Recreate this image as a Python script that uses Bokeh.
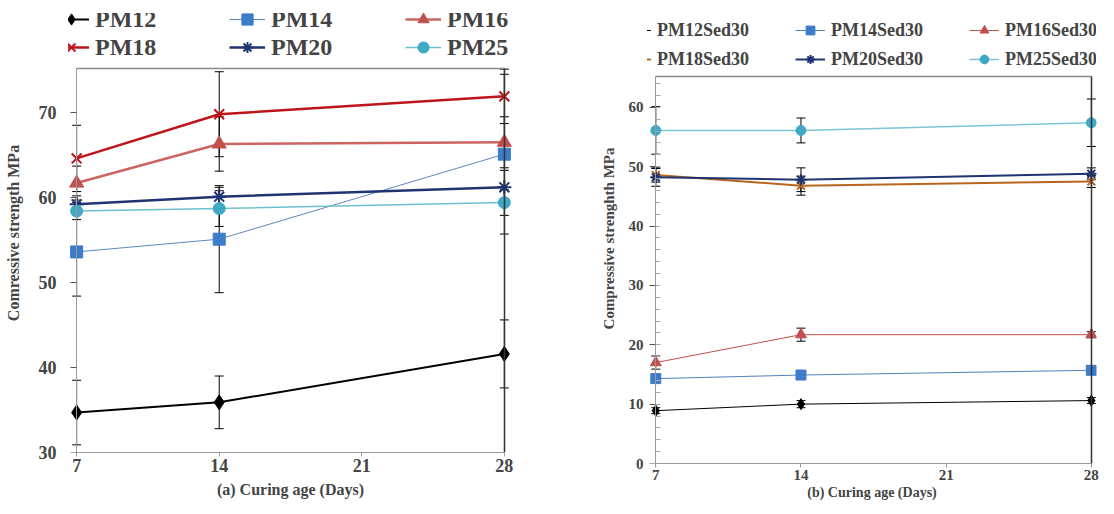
from bokeh.plotting import figure
from bokeh.models import (Range1d, LinearAxis, FixedTicker, Whisker, ColumnDataSource,
                          Legend, LegendItem, TeeHead)
from bokeh.layouts import row
from bokeh.embed import file_html
from bokeh.resources import INLINE

# ---------------- data ----------------
days = [7, 14, 28]
x_ticks = [7, 14, 21, 28]

# (a) plain mixes
a_labels = ["PM12", "PM14", "PM16", "PM18", "PM20", "PM25"]
a_pm12 = [34.7, 35.9, 41.6]
a_pm14 = [53.6, 55.1, 65.1]
a_pm16 = [61.7, 66.3, 66.5]
a_pm18 = [64.6, 69.8, 71.9]
a_pm20 = [59.2, 60.1, 61.2]
a_pm25 = [58.4, 58.7, 59.4]
a_err12 = [3.8, 3.1, 4.0]
a_err14 = [5.2, 6.3, 9.4]
a_err16 = [2.0, 3.2, 3.0]
a_err18 = [3.9, 5.0, 3.2]
a_err20 = [1.0, 1.1, 2.0]
a_err25 = [1.0, 2.1, 1.5]
a_yticks = [30, 40, 50, 60, 70]
a_ymin, a_ymax = 30, 75.2

# (b) Sed30 mixes
b_labels = ["PM12Sed30", "PM14Sed30", "PM16Sed30", "PM18Sed30", "PM20Sed30", "PM25Sed30"]
b_pm12 = [8.9, 10.0, 10.6]
b_pm14 = [14.3, 14.9, 15.7]
b_pm16 = [17.0, 21.7, 21.7]
b_pm18 = [48.6, 46.8, 47.5]
b_pm20 = [48.2, 47.8, 48.8]
b_pm25 = [56.1, 56.1, 57.4]
b_err12 = [0.5, 0.6, 0.5]
b_err14 = [0.5, 0.5, 0.5]
b_err16 = [1.1, 1.1, 0.5]
b_err18 = [1.2, 1.6, 1.0]
b_err20 = [1.5, 2.0, 1.0]
b_err25 = [4.0, 2.1, 4.0]
b_yticks = [0, 10, 20, 30, 40, 50, 60]
b_minor = list(range(0, 66, 2))
b_ymin, b_ymax = 0, 65.2

FONT = "Liberation Serif"

a_styles = [
    dict(color="#000000", mcolor="#000000", marker="diamond", lw=2.0, ms=15),
    dict(color="#5f86c0", mcolor="#3d7cc9", marker="square", lw=1.0, ms=12),
    dict(color="#cc6460", mcolor="#c0504d", marker="triangle", lw=2.5, ms=14),
    dict(color="#c0141c", mcolor="#c0141c", marker="x", lw=2.5, ms=14),
    dict(color="#1f3470", mcolor="#1f3470", marker="asterisk", lw=2.5, ms=14),
    dict(color="#6fbfd2", mcolor="#3fa9c4", marker="circle", lw=1.5, ms=12),
]
b_styles = [
    dict(color="#000000", mcolor="#000000", marker="diamond", lw=1.0, ms=11),
    dict(color="#4f81bd", mcolor="#3d7cc9", marker="square", lw=1.0, ms=10),
    dict(color="#c0504d", mcolor="#c0504d", marker="triangle", lw=1.0, ms=11),
    dict(color="#b8661e", mcolor="#b8661e", marker="x", lw=2.0, ms=11),
    dict(color="#1f3470", mcolor="#1f3470", marker="asterisk", lw=2.0, ms=11),
    dict(color="#7cc5d6", mcolor="#3fa9c4", marker="circle", lw=1.5, ms=10),
]


def make_panel(series, errs, labels, styles, ylo, yhi, ytop, xend, yticks, minor, ylabel,
               xlabel, frame_w, frame_h, mbl, mbr, mbt, mbb, tick_fs, xtick_fs, xlab_fs,
               ylab_fs, leg_fs, leg_glyph, leg_gh, leg_colw, leg_spacing, leg_loc,
               ytick_standoff, ylabel_standoff, xtick_standoff, xlabel_standoff):
    p = figure(frame_width=frame_w, frame_height=frame_h, output_backend="svg",
               toolbar_location=None,
               x_range=Range1d(6.6, xend), y_range=Range1d(ylo, ytop),
               x_axis_type=None, y_axis_type=None,
               min_border_left=mbl, min_border_right=mbr,
               min_border_top=mbt, min_border_bottom=mbb)
    p.grid.visible = False
    p.outline_line_color = None
    p.background_fill_color = "white"

    # error bars
    for vals, err in zip(series, errs):
        src = ColumnDataSource(dict(x=days, upper=[min(v + e, yhi) for v, e in zip(vals, err)],
                                    lower=[v - e for v, e in zip(vals, err)]))
        w = Whisker(source=src, base="x", upper="upper", lower="lower",
                    line_color="black", line_width=1,
                    upper_head=TeeHead(size=9, line_color="black", line_width=1),
                    lower_head=TeeHead(size=9, line_color="black", line_width=1))
        p.add_layout(w)

    items = []
    for vals, lab, st in zip(series, labels, styles):
        lr = p.line(days, vals, line_color=st["color"], line_width=st["lw"])
        if st["marker"] in ("x", "asterisk"):
            sr = p.scatter(days, vals, marker=st["marker"], size=st["ms"],
                           line_color=st["mcolor"], line_width=2)
        else:
            sr = p.scatter(days, vals, marker=st["marker"], size=st["ms"],
                           fill_color=st["mcolor"], line_color=st["mcolor"])
        items.append(LegendItem(label=lab, renderers=[lr, sr]))

    # bottom axis
    xaxis = LinearAxis(ticker=FixedTicker(ticks=x_ticks), bounds=(7, 28),
                       axis_line_color="#9a9a9a", major_tick_line_color="#9a9a9a",
                       major_tick_in=0, major_tick_out=4, minor_tick_line_color=None,
                       major_label_text_font=FONT, major_label_text_font_style="bold",
                       major_label_text_font_size=xtick_fs,
                       major_label_standoff=xtick_standoff,
                       axis_label=xlabel, axis_label_text_font=FONT,
                       axis_label_text_font_style="bold", axis_label_text_font_size=xlab_fs,
                       axis_label_standoff=xlabel_standoff)
    p.add_layout(xaxis, "below")

    # left axis: labels only (at frame edge)
    ylab_axis = LinearAxis(ticker=FixedTicker(ticks=yticks),
                           axis_line_color=None, major_tick_line_color=None,
                           minor_tick_line_color=None, major_tick_in=0, major_tick_out=0,
                           major_label_text_font=FONT, major_label_text_font_style="bold",
                           major_label_text_font_size=tick_fs,
                           major_label_standoff=ytick_standoff,
                           axis_label=ylabel, axis_label_text_font=FONT,
                           axis_label_text_font_style="bold", axis_label_text_font_size=ylab_fs,
                           axis_label_standoff=ylabel_standoff)
    p.add_layout(ylab_axis, "left")

    # left axis line and ticks at day 7
    yline_axis = LinearAxis(ticker=FixedTicker(ticks=yticks, minor_ticks=minor),
                            fixed_location=7, bounds=(ylo, yhi),
                            axis_line_color="#9a9a9a", major_tick_line_color="#555555",
                            major_tick_in=0, major_tick_out=6,
                            minor_tick_line_color="#aaaaaa" if minor else None,
                            minor_tick_in=5, minor_tick_out=0,
                            major_label_text_color=None)
    p.add_layout(yline_axis, "left")

    raxis = LinearAxis(fixed_location=28, bounds=(ylo, yhi),
                       axis_line_color="#333333", axis_line_width=1.5,
                       ticker=FixedTicker(ticks=[]), major_tick_line_color=None,
                       minor_tick_line_color=None, major_label_standoff=0)
    p.add_layout(raxis, "right")

    taxis = LinearAxis(fixed_location=yhi, bounds=(7, 28),
                       axis_line_color="#8a8a8a", axis_line_width=1.5,
                       ticker=FixedTicker(ticks=[]), major_tick_line_color=None,
                       minor_tick_line_color=None, major_label_standoff=0)
    p.add_layout(taxis, "below")

    order = [0, 3, 1, 4, 2, 5]
    leg = Legend(items=[items[i] for i in order], nrows=2, orientation="vertical",
                 location=leg_loc,
                 border_line_color=None, background_fill_alpha=0,
                 label_text_font=FONT, label_text_font_style="bold",
                 label_text_font_size=leg_fs, glyph_width=leg_glyph, glyph_height=leg_gh,
                 label_standoff=6, label_width=leg_colw, label_height=18,
                 spacing=leg_spacing, padding=0, margin=0)
    p.add_layout(leg)
    return p


p1 = make_panel([a_pm12, a_pm14, a_pm16, a_pm18, a_pm20, a_pm25],
                [a_err12, a_err14, a_err16, a_err18, a_err20, a_err25],
                a_labels, a_styles, a_ymin, a_ymax, 81.65, 28.4, a_yticks, [],
                "Comressive strength MPa", "(a) Curing age (Days)",
                444, 439, 68, 67, 13, 55, "18px", "18px", "16px", "16px",
                "24px", 36, 28, 134, -2, (-15, 391), 12, 14, 2, 6)

p2 = make_panel([b_pm12, b_pm14, b_pm16, b_pm18, b_pm20, b_pm25],
                [b_err12, b_err14, b_err16, b_err18, b_err20, b_err25],
                b_labels, b_styles, b_ymin, b_ymax, 75.8, 28.25, b_yticks, b_minor,
                "Compressive strenghth MPa", "(b) Curing age (Days)",
                449, 450, 68, 10, 13, 44, "15px", "15px", "14px", "15px",
                "18px", 30, 22, 131, 7, (-26, 393), 4, 9, 2, 2)

layout = row(p1, p2)
open("out.html", "w").write(file_html(layout, INLINE))
